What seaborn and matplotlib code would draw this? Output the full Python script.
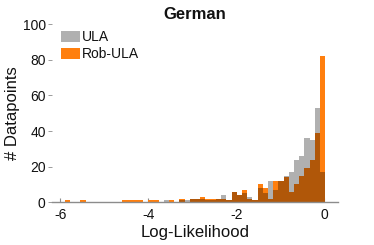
import numpy as np
import pandas as pd
import seaborn as sns
import matplotlib.pyplot as plt
from matplotlib.patches import Patch

# shared bin edges of the log-likelihood histograms
bin_edges = list(np.linspace(-5.9, 0.02, 51))

# counts per bin
ula_counts = [0, 0, 0, 0, 0, 0, 0, 0, 0, 0,
              0, 0, 0, 0, 0, 0, 0, 0, 0, 1,
              0, 0, 1, 1, 2, 2, 2, 1, 1, 2,
              4, 1, 6, 4, 5, 3, 1, 8, 5, 12,
              7, 12, 15, 17, 24, 26, 36, 35, 53, 17]
rob_ula_counts = [1, 0, 0, 1, 0, 0, 0, 0, 0, 0,
                  0, 1, 1, 1, 1, 0, 1, 1, 0, 0,
                  1, 0, 2, 0, 2, 2, 3, 2, 2, 2,
                  2, 1, 6, 4, 7, 2, 1, 10, 8, 2,
                  12, 12, 14, 6, 10, 15, 19, 24, 39, 82]

series_names = ['ULA', 'Rob-ULA']
title = 'German'
x_ticks = [-6, -4, -2, 0]
y_ticks = [0, 20, 40, 60, 80, 100]

orange = '#ff7f0e'
ula_color = (0, 0, 0, 0.31)

sns.set_style('white')
plt.rcParams['font.family'] = ['Liberation Sans', 'DejaVu Sans']
plt.rcParams['axes.unicode_minus'] = False
plt.rcParams['text.color'] = '#111111'
plt.rcParams['axes.labelcolor'] = '#111111'
plt.rcParams['xtick.labelcolor'] = '#111111'
plt.rcParams['ytick.labelcolor'] = '#111111'

fig = plt.figure(figsize=(3.74, 2.45), dpi=100)
ax = fig.add_axes([0.139, 0.1745, 0.765, 0.7265])

centers = [(a + b) / 2 for a, b in zip(bin_edges[:-1], bin_edges[1:])]
df = pd.DataFrame({'ll': centers, 'ula': ula_counts, 'rob': rob_ula_counts})

sns.histplot(data=df, x='ll', weights='rob', bins=bin_edges, color=orange,
             alpha=1, linewidth=0, ax=ax)
sns.histplot(data=df, x='ll', weights='ula', bins=bin_edges, color='black',
             alpha=0.31, linewidth=0, ax=ax)

ax.set_xlim(-6.19, 0.31)
ax.set_ylim(0, 100)
ax.set_xticks(x_ticks)
ax.set_yticks(y_ticks)

for s in ['top', 'right', 'left']:
    ax.spines[s].set_visible(False)
ax.spines['bottom'].set_color('#8c8c8c')
ax.spines['bottom'].set_linewidth(1)

ax.tick_params(axis='x', direction='in', length=3, width=0.8, color='#8c8c8c',
               labelsize=10, pad=4, bottom=True)
ax.tick_params(axis='y', direction='out', length=3, width=0.6, color='#8c8c8c',
               labelsize=10, pad=1.5, left=True)

ax.set_xlabel('Log-Likelihood', fontsize=12, labelpad=2)
ax.set_ylabel('# Datapoints', fontsize=12, labelpad=2)
ax.set_title(title, fontsize=12, fontweight='bold', pad=4)

handles = [Patch(facecolor=ula_color, edgecolor='none'),
           Patch(facecolor=orange, edgecolor='none')]
ax.legend(handles, series_names, loc='upper left', bbox_to_anchor=(0.03, 0.965),
          frameon=False, fontsize=10, handlelength=1.37, handleheight=0.87,
          handletextpad=0.15, labelspacing=0.2, borderpad=0, borderaxespad=0)

fig.savefig('out.png', dpi=100)
